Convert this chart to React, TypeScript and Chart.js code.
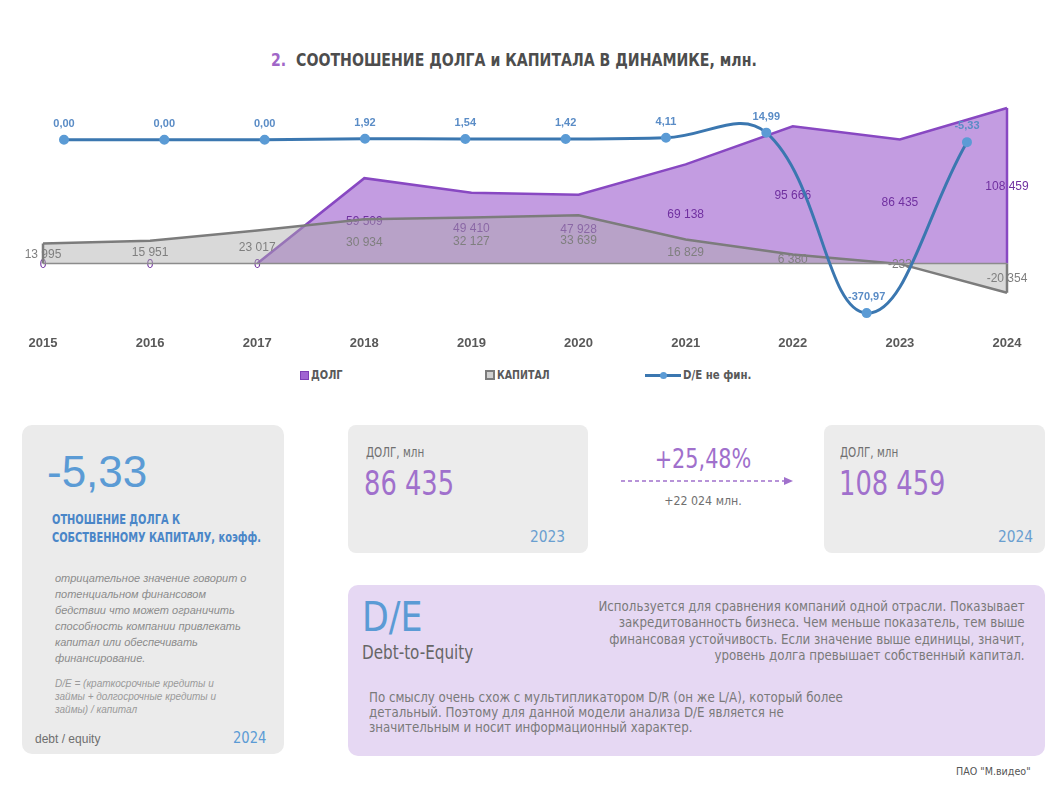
import React, { useEffect, useRef } from "react";
import { Chart, registerables } from "chart.js";

Chart.register(...registerables);

// ---------- DATA ----------
const years = ["2015", "2016", "2017", "2018", "2019", "2020", "2021", "2022", "2023", "2024"];
const debt = [0, 0, 0, 59509, 49410, 47928, 69138, 95666, 86435, 108459];
const capital = [13995, 15951, 23017, 30934, 32127, 33639, 16829, 6380, -233, -20354];
const deRatio = [0.0, 0.0, 0.0, 1.92, 1.54, 1.42, 4.11, 14.99, -370.97, -5.33];

const legendLabels = ["ДОЛГ", "КАПИТАЛ", "D/E не фин."];

const DJ = '"DejaVu Sans", sans-serif';
const SANS = '"Liberation Sans", Arial, sans-serif';

const PURPLE_FILL = "rgba(155, 90, 205, 0.6)";
const PURPLE_LINE = "#8848c2";
const PURPLE_TEXT = "#7030a0";
const GRAY_FILL = "rgba(170, 170, 170, 0.45)";
const GRAY_LINE = "#7c7c7c";
const GRAY_TEXT = "#7f7f7f";
const BLUE_LINE = "#3b77b0";
const BLUE_POINT = "#5b9bd5";
const BLUE_TEXT = "#5a8cc6";

const fmtInt = (v: number) => {
  const s = Math.abs(Math.round(v)).toString().replace(/\B(?=(\d{3})+(?!\d))/g, " ");
  return (v < 0 ? "-" : "") + s;
};
const fmtRatio = (v: number) => v.toFixed(2).replace(".", ",");

const labelPlugin = {
  id: "customLabels",
  afterDatasetDraw(chart: any, args: any) {
    const ds: any = chart.data.datasets[args.index];
    const meta = args.meta;
    const ctx = chart.ctx;
    ctx.save();
    if (ds.kind === "area") {
      const yScale = chart.scales[meta.yAxisID];
      const y0 = yScale.getPixelForValue(0);
      ctx.font = "12px " + SANS;
      ctx.fillStyle = ds.labelColor;
      ctx.textAlign = "center";
      ctx.textBaseline = "middle";
      meta.data.forEach((pt: any, i: number) => {
        const v = ds.data[i];
        ctx.fillText(fmtInt(v), pt.x, (pt.y + y0) / 2 + 1);
      });
      const pts = meta.data;
      const first = pts[0];
      const last = pts[pts.length - 1];
      ctx.strokeStyle = ds.borderColor;
      ctx.lineWidth = ds.borderWidth;
      ctx.beginPath();
      ctx.moveTo(first.x, first.y);
      ctx.lineTo(first.x, y0);
      ctx.moveTo(last.x, last.y);
      ctx.lineTo(last.x, y0);
      ctx.stroke();
      if (ds.drawBase) {
        ctx.strokeStyle = "#8c8c8c";
        ctx.lineWidth = 1.5;
        ctx.beginPath();
        ctx.moveTo(first.x, y0);
        ctx.lineTo(last.x, y0);
        ctx.stroke();
      }
    } else if (ds.kind === "ratio") {
      ctx.font = "bold 11px " + SANS;
      ctx.fillStyle = BLUE_TEXT;
      ctx.textAlign = "center";
      ctx.textBaseline = "middle";
      meta.data.forEach((pt: any, i: number) => {
        ctx.fillText(fmtRatio(deRatio[i]), pt.x, pt.y - 16);
      });
    }
    ctx.restore();
  },
};

function DebtChart() {
  const ref = useRef<HTMLCanvasElement | null>(null);
  useEffect(() => {
    if (!ref.current) return;
    const chart = new Chart(ref.current, {
      type: "line",
      data: {
        labels: years,
        datasets: [
          {
            label: legendLabels[2],
            kind: "ratio",
            data: deRatio.map((v, i) => ({ x: i, y: v })),
            xAxisID: "x2",
            yAxisID: "y2",
            borderColor: BLUE_LINE,
            borderWidth: 3,
            pointRadius: 3.5,
            pointBackgroundColor: BLUE_POINT,
            pointBorderColor: BLUE_POINT,
            tension: 0.4,
            fill: false,
            order: 0,
          } as any,
          {
            label: legendLabels[1],
            kind: "area",
            labelColor: GRAY_TEXT,
            drawBase: true,
            data: capital,
            xAxisID: "x",
            yAxisID: "y",
            borderColor: GRAY_LINE,
            borderWidth: 2.5,
            backgroundColor: GRAY_FILL,
            pointRadius: 0,
            tension: 0,
            fill: "origin",
            order: 1,
          } as any,
          {
            label: legendLabels[0],
            kind: "area",
            labelColor: PURPLE_TEXT,
            data: debt,
            xAxisID: "x",
            yAxisID: "y",
            borderColor: PURPLE_LINE,
            borderWidth: 2.5,
            backgroundColor: PURPLE_FILL,
            pointRadius: 0,
            tension: 0,
            fill: "origin",
            order: 2,
            segment: {
              borderColor: (c: any) =>
                c.p0.parsed.y === 0 && c.p1.parsed.y === 0 ? "rgba(0,0,0,0)" : PURPLE_LINE,
            },
          } as any,
        ],
      },
      options: {
        animation: false,
        responsive: false,
        maintainAspectRatio: false,
        layout: { padding: { left: 43, right: 56, top: 5, bottom: 0 } },
        plugins: {
          legend: { display: false },
          tooltip: { enabled: false },
          title: { display: false },
        },
        scales: {
          x: {
            type: "category",
            offset: false,
            grid: { display: false },
            border: { display: false },
            ticks: {
              font: { size: 13, weight: "bold", family: SANS },
              color: "#595959",
              padding: 3,
              maxRotation: 0,
              autoSkip: false,
            },
            afterFit: (s: any) => {
              s.height = 35;
            },
          },
          y: { type: "linear", min: -42831, max: 112604, display: false },
          x2: { type: "linear", min: -0.2093, max: 9.399, display: false },
          y2: { type: "linear", min: -396.4, max: 80.56, display: false },
        },
      } as any,
      plugins: [labelPlugin as any],
    });
    return () => chart.destroy();
  }, []);
  return (
    <canvas
      ref={ref}
      width={1063}
      height={265}
      style={{ position: "absolute", left: 0, top: 95, width: 1063, height: 265, display: "block" }}
    />
  );
}

const abs = (l: number, t: number, extra: React.CSSProperties = {}): React.CSSProperties => ({
  position: "absolute",
  left: l,
  top: t,
  margin: 0,
  whiteSpace: "nowrap",
  ...extra,
});

const cond = (k: number, origin = "left top"): React.CSSProperties => ({
  fontFamily: DJ,
  transform: `scaleX(${k})`,
  transformOrigin: origin,
});

export default function App() {
  const legendText = (k: number): React.CSSProperties => ({
    display: "inline-block",
    fontFamily: DJ,
    fontWeight: "bold",
    fontSize: 12,
    lineHeight: "14px",
    color: "#595959",
    transform: `scaleX(${k})`,
    transformOrigin: "left center",
  });
  return (
    <div
      style={{
        position: "absolute",
        left: 0,
        top: 0,
        width: 1063,
        height: 801,
        background: "#ffffff",
        overflow: "hidden",
        fontFamily: SANS,
      }}
    >
      {/* Title */}
      <div style={abs(271, 49, { ...cond(0.785), fontWeight: "bold", fontSize: 18, lineHeight: "22px", color: "#4d4d4d" })}>
        <span style={{ color: "#a066c8" }}>2.</span>&nbsp; СООТНОШЕНИЕ ДОЛГА и КАПИТАЛА В ДИНАМИКЕ, млн.
      </div>

      <DebtChart />

      {/* Legend */}
      <div style={abs(300, 368, { display: "flex", alignItems: "center" })}>
        <span style={{ width: 7, height: 7, background: "#a064d2", border: "1px solid #7d3fb5", marginRight: 2 }} />
        <span style={legendText(0.82)}>{legendLabels[0]}</span>
      </div>
      <div style={abs(485, 368, { display: "flex", alignItems: "center" })}>
        <span style={{ width: 6, height: 6, background: "#d0d0d0", border: "2px solid #7c7c7c", marginRight: 2 }} />
        <span style={legendText(0.79)}>{legendLabels[1]}</span>
      </div>
      <div style={abs(645, 368, { display: "flex", alignItems: "center" })}>
        <span style={{ position: "relative", width: 36, height: 14, marginRight: 2 }}>
          <span style={{ position: "absolute", left: 0, top: 5.5, width: 36, height: 3, background: BLUE_LINE }} />
          <span style={{ position: "absolute", left: 14.5, top: 3.5, width: 7, height: 7, borderRadius: 4, background: BLUE_POINT }} />
        </span>
        <span style={legendText(0.85)}>{legendLabels[2]}</span>
      </div>

      {/* Left panel */}
      <div style={abs(22, 425, { width: 262, height: 329, background: "#ebebeb", borderRadius: 10 })} />
      <div style={abs(47, 449, { fontSize: 44, lineHeight: "46px", color: "#5b9bd5" })}>-5,33</div>
      <div style={abs(52, 510, { ...cond(0.73), fontWeight: "bold", fontSize: 13.5, lineHeight: "18px", color: "#4a86c8" })}>
        ОТНОШЕНИЕ ДОЛГА К<br />СОБСТВЕННОМУ КАПИТАЛУ, коэфф.
      </div>
      <div style={abs(55, 570, { fontStyle: "italic", fontSize: 11, lineHeight: "16px", color: "#8c8c8c" })}>
        отрицательное значение говорит о<br />
        потенциальном финансовом<br />
        бедствии что может ограничить<br />
        способность компании привлекать<br />
        капитал или обеспечивать<br />
        финансирование.
      </div>
      <div style={abs(55, 677, { fontStyle: "italic", fontSize: 10, lineHeight: "13px", color: "#9a9a9a" })}>
        D/E = (краткосрочные кредиты и<br />
        займы + долгосрочные кредиты и<br />
        займы) / капитал
      </div>
      <div style={abs(35, 731, { fontSize: 12, lineHeight: "16px", color: "#6f6f6f" })}>debt / equity</div>
      <div style={abs(233, 729, { ...cond(0.82), fontSize: 16, lineHeight: "18px", color: "#5b9bd5" })}>2024</div>

      {/* Box 2023 */}
      <div style={abs(348, 425, { width: 240, height: 128, background: "#ececec", borderRadius: 8 })} />
      <div style={abs(366, 444, { ...cond(0.74), fontSize: 14, lineHeight: "16px", color: "#707070" })}>ДОЛГ, млн</div>
      <div style={abs(364, 465, { ...cond(0.757), fontSize: 34, lineHeight: "36px", color: "#a070cc" })}>86 435</div>
      <div style={abs(530, 528, { ...cond(0.86), fontSize: 16, lineHeight: "18px", color: "#6a9fd0" })}>2023</div>

      {/* Middle change */}
      <div style={abs(613, 445, { width: 180, textAlign: "center", ...cond(0.8, "center top"), fontSize: 26, lineHeight: "28px", color: "#a070cc" })}>+25,48%</div>
      <svg style={{ position: "absolute", left: 618, top: 474 }} width={180} height={14}>
        <line x1={3} y1={7} x2={168} y2={7} stroke="#a070cc" strokeWidth={1.5} strokeDasharray="4 3" />
        <polygon points="166,3 175,7 166,11" fill="#a070cc" />
      </svg>
      <div style={abs(613, 493, { width: 180, textAlign: "center", ...cond(0.85, "center top"), fontSize: 13, lineHeight: "16px", color: "#707070" })}>+22 024 млн.</div>

      {/* Box 2024 */}
      <div style={abs(824, 425, { width: 221, height: 128, background: "#ececec", borderRadius: 8 })} />
      <div style={abs(840, 444, { ...cond(0.74), fontSize: 14, lineHeight: "16px", color: "#707070" })}>ДОЛГ, млн</div>
      <div style={abs(839, 465, { ...cond(0.757), fontSize: 34, lineHeight: "36px", color: "#a070cc" })}>108 459</div>
      <div style={abs(998, 528, { ...cond(0.86), fontSize: 16, lineHeight: "18px", color: "#6a9fd0" })}>2024</div>

      {/* D/E box */}
      <div style={abs(348, 585, { width: 697, height: 171, background: "#e6d8f3", borderRadius: 10 })} />
      <div style={abs(362, 596, { ...cond(0.87), fontSize: 40, lineHeight: "42px", color: "#5b9bd5" })}>D/E</div>
      <div style={abs(362, 641, { ...cond(0.8), fontSize: 19, lineHeight: "22px", color: "#666666" })}>Debt-to-Equity</div>
      <div
        style={{
          position: "absolute",
          right: 38,
          top: 598,
          textAlign: "right",
          whiteSpace: "nowrap",
          ...cond(0.817, "right top"),
          fontSize: 14.5,
          lineHeight: "16.3px",
          color: "#7a7a7a",
        }}
      >
        Используется для сравнения компаний одной отрасли. Показывает<br />
        закредитованность бизнеса. Чем меньше показатель, тем выше<br />
        финансовая устойчивость. Если значение выше единицы, значит,<br />
        уровень долга превышает собственный капитал.
      </div>
      <div style={abs(369, 690, { ...cond(0.817), fontSize: 14.5, lineHeight: "15px", color: "#7a7a7a" })}>
        По смыслу очень схож с мультипликатором D/R (он же L/A), который более<br />
        детальный. Поэтому для данной модели анализа D/E является не<br />
        значительным и носит информационный характер.
      </div>

      <div style={abs(956, 765, { ...cond(0.91), fontSize: 10.5, lineHeight: "12px", color: "#555555" })}>ПАО "М.видео"</div>
    </div>
  );
}
